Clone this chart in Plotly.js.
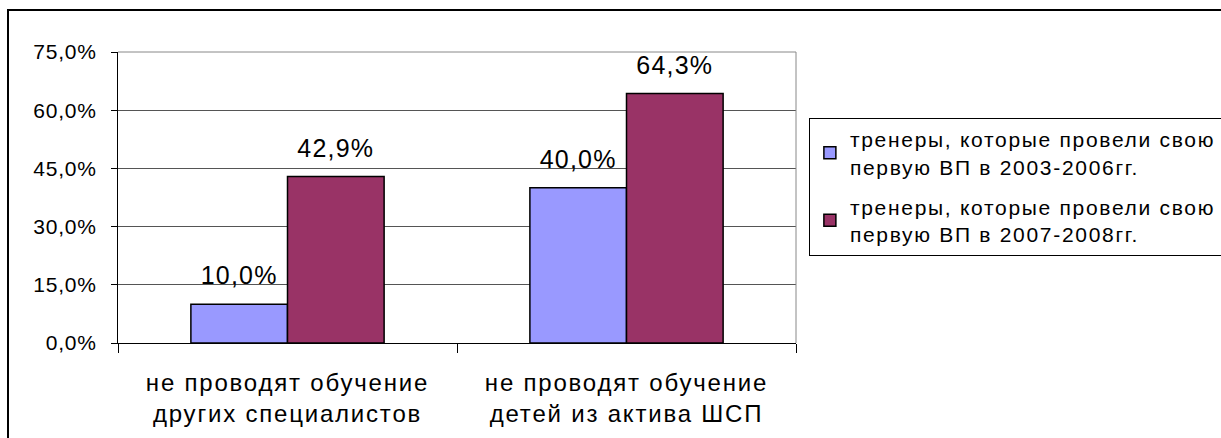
<!DOCTYPE html>
<html>
<head>
<meta charset="utf-8">
<script src="https://cdn.plot.ly/plotly-3.0.1.min.js"></script>
<style>
  html, body { margin: 0; padding: 0; background: #fff; }
  #wrap { position: relative; width: 1221px; height: 438px; overflow: hidden; }
  #chart { position: absolute; left: 0; top: 0; width: 1221px; height: 438px; }
  #frame { position: absolute; left: 7px; top: 9px; width: 1400px; height: 600px;
           border-top: 2px solid #000; border-left: 2px solid #000; pointer-events: none; }
  .xtick text { letter-spacing: 1.8px; }
  .legendtext { letter-spacing: 1.7px; }
  .ytick text { letter-spacing: 0.8px; }
  .textpoint text { letter-spacing: 1.2px; }
</style>
</head>
<body>
<div id="wrap">
  <div id="chart"></div>
  <div id="frame"></div>
</div>
<script>
const categories = [
  'не проводят обучение<br>других специалистов',
  'не проводят обучение<br>детей из актива ШСП'
];
const seriesNames = [
  'тренеры, которые провели свою<br>первую ВП в 2003-2006гг.',
  'тренеры, которые провели свою<br>первую ВП в 2007-2008гг.'
];
const values2003_2006 = [10.0, 40.0];
const values2007_2008 = [42.9, 64.3];
const colors = ['#9999FF', '#993366'];

const FONT = 'Liberation Sans, Arial, sans-serif';

const barTrace = (name, vals, color, grp) => ({
  type: 'bar', name: name, x: categories, y: vals, offsetgroup: grp,
  legendgroup: grp,
  marker: { color: color, line: { color: '#000', width: 1.5 } },
  hoverinfo: 'skip'
});
const labelTrace = (vals, grp) => ({
  type: 'scatter', mode: 'markers+text', x: categories, y: vals, offsetgroup: grp,
  marker: { size: 20, color: 'rgba(0,0,0,0)' },
  text: vals, texttemplate: '%{y:.1f}%', textposition: 'top center',
  textfont: { family: FONT, size: 25, color: '#000' },
  showlegend: false, hoverinfo: 'skip', cliponaxis: false
});

const data = [
  barTrace(seriesNames[0], values2003_2006, colors[0], 'a'),
  barTrace(seriesNames[1], values2007_2008, colors[1], 'b'),
  labelTrace(values2003_2006, 'a'),
  labelTrace(values2007_2008, 'b')
];

const layout = {
  width: 1221, height: 438,
  margin: { l: 118, r: 425, t: 52, b: 94.5, autoexpand: false },
  paper_bgcolor: '#fff', plot_bgcolor: '#fff',
  separators: ', ',
  barmode: 'group', bargap: 0.43, bargroupgap: 0,
  scattermode: 'group', scattergap: 0.43,
  font: { family: FONT, color: '#000' },
  showlegend: true,
  legend: {
    x: 1.019, xanchor: 'left', y: 0.7736, yanchor: 'top',
    bgcolor: '#fff', bordercolor: '#000', borderwidth: 1,
    font: { family: FONT, size: 21, color: '#000' },
    traceorder: 'grouped', tracegroupgap: 10,
    itemclick: false, itemdoubleclick: false
  },
  xaxis: {
    type: 'category', showline: true, linecolor: '#000', linewidth: 1,
    ticks: 'outside', tickson: 'boundaries', ticklen: 9, tickcolor: '#000',
    ticklabelstandoff: 18,
    tickfont: { family: FONT, size: 24, color: '#000' },
    showgrid: false, mirror: false, fixedrange: true
  },
  yaxis: {
    range: [0, 75], dtick: 15, tick0: 0, tickformat: '.1f', ticksuffix: '%',
    showline: true, linecolor: '#000', linewidth: 1,
    ticks: 'outside', ticklen: 6, tickcolor: '#000',
    ticklabelstandoff: 10,
    showgrid: true, gridcolor: '#555', gridwidth: 1,
    zeroline: false,
    tickfont: { family: FONT, size: 21, color: '#000' },
    fixedrange: true
  },
  shapes: [
    { type: 'line', xref: 'paper', yref: 'paper', x0: 1, x1: 1, y0: 0, y1: 1,
      line: { color: '#888', width: 1 } },
    { type: 'line', xref: 'paper', yref: 'paper', x0: 0, x1: 1, y0: 1, y1: 1,
      line: { color: '#888', width: 1 } }
  ]
};

Plotly.newPlot('chart', data, layout, { staticPlot: true, displayModeBar: false });
</script>
</body>
</html>
